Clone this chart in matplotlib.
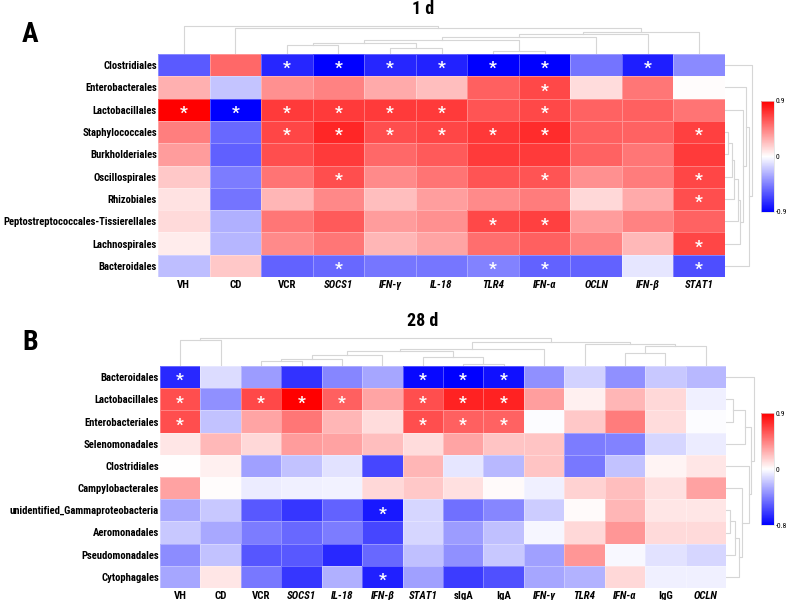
import matplotlib
matplotlib.use("Agg")
import matplotlib.pyplot as plt
import numpy as np
from matplotlib.colors import TwoSlopeNorm
from matplotlib import font_manager

_names = {f.name for f in font_manager.fontManager.ttflist}
_narrow = [n for n in ["Liberation Sans Narrow", "Arial Narrow", "Roboto Condensed",
                       "Open Sans Condensed"] if n in _names]
plt.rcParams['font.family'] = _narrow + ['Liberation Sans', 'DejaVu Sans']

# ---------------- Panel A data (1 d) ----------------
rows_a = ["Clostridiales", "Enterobacterales", "Lactobacillales", "Staphylococcales",
          "Burkholderiales", "Oscillospirales", "Rhizobiales",
          "Peptostreptococcales-Tissierellales", "Lachnospirales", "Bacteroidales"]
cols_a = ["VH", "CD", "VCR", "SOCS1", "IFN-γ", "IL-18", "TLR4", "IFN-α", "OCLN", "IFN-β", "STAT1"]
italic_a = [False, False, False, True, True, True, True, True, True, True, True]
vals_a = [
    [-0.58, 0.53, -0.76, -0.90, -0.76, -0.78, -0.90, -0.90, -0.49, -0.79, -0.41],
    [0.28, -0.21, 0.39, 0.44, 0.30, 0.23, 0.56, 0.64, 0.12, 0.48, 0.01],
    [0.90, -0.90, 0.69, 0.69, 0.69, 0.69, 0.60, 0.64, 0.55, 0.56, 0.49],
    [0.45, -0.53, 0.65, 0.76, 0.62, 0.65, 0.70, 0.74, 0.56, 0.55, 0.67],
    [0.35, -0.56, 0.62, 0.69, 0.53, 0.58, 0.69, 0.69, 0.55, 0.48, 0.69],
    [0.19, -0.46, 0.49, 0.62, 0.41, 0.49, 0.60, 0.60, 0.39, 0.46, 0.65],
    [0.10, -0.49, 0.26, 0.42, 0.23, 0.34, 0.41, 0.46, 0.14, 0.30, 0.62],
    [0.13, -0.28, 0.48, 0.58, 0.35, 0.39, 0.64, 0.67, 0.35, 0.44, 0.55],
    [0.07, -0.26, 0.41, 0.48, 0.26, 0.32, 0.51, 0.56, 0.44, 0.25, 0.65],
    [-0.23, 0.19, -0.55, -0.53, -0.48, -0.48, -0.44, -0.55, -0.55, -0.09, -0.62],
]
sig_a = {
    "Clostridiales": ["VCR", "SOCS1", "IFN-γ", "IL-18", "TLR4", "IFN-α", "IFN-β"],
    "Enterobacterales": ["IFN-α"],
    "Lactobacillales": ["VH", "CD", "VCR", "SOCS1", "IFN-γ", "IL-18", "IFN-α"],
    "Staphylococcales": ["VCR", "SOCS1", "IFN-γ", "IL-18", "TLR4", "IFN-α", "STAT1"],
    "Oscillospirales": ["SOCS1", "IFN-α", "STAT1"],
    "Rhizobiales": ["STAT1"],
    "Peptostreptococcales-Tissierellales": ["TLR4", "IFN-α"],
    "Lachnospirales": ["STAT1"],
    "Bacteroidales": ["SOCS1", "TLR4", "IFN-α", "STAT1"],
}
col_link_a = [("TLR4", "IFN-α", 3.0), ("IFN-γ", "IL-18", 5.7), ("VCR", "SOCS1", 8.7),
              ("n2", "n1", 11.3), ("n3", "n0", 14.0), ("n4", "OCLN", 17.3),
              ("n5", "IFN-β", 19.7), ("n6", "STAT1", 22.3), ("CD", "n7", 25.7),
              ("VH", "n8", 28.0)]
row_link_a = [("Staphylococcales", "Burkholderiales", 3.3), ("n0", "Oscillospirales", 6.7),
              ("n1", "Rhizobiales", 9.3), ("n2", "Peptostreptococcales-Tissierellales", 13.3),
              ("n3", "Lachnospirales", 15.3), ("Lactobacillales", "n4", 17.7),
              ("Enterobacterales", "n5", 21.3), ("n6", "Bacteroidales", 23.7),
              ("Clostridiales", "n7", 27.0)]
range_a = (-0.9, 0.9)

# ---------------- Panel B data (28 d) ----------------
rows_b = ["Bacteroidales", "Lactobacillales", "Enterobacteriales", "Selenomonadales",
          "Clostridiales", "Campylobacterales", "unidentified_Gammaproteobacteria",
          "Aeromonadales", "Pseudomonadales", "Cytophagales"]
cols_b = ["VH", "CD", "VCR", "SOCS1", "IL-18", "IFN-β", "STAT1", "sIgA", "IgA",
          "IFN-γ", "TLR4", "IFN-α", "IgG", "OCLN"]
italic_b = [False, False, False, True, True, True, True, False, False,
            True, True, True, False, True]
vals_b = [
    [-0.67, -0.11, -0.31, -0.64, -0.38, -0.28, -0.77, -0.80, -0.75, -0.35, -0.14, -0.35, -0.17, -0.22],
    [0.62, -0.35, 0.64, 0.90, 0.56, 0.32, 0.62, 0.78, 0.78, 0.34, 0.05, 0.26, 0.14, -0.05],
    [0.62, -0.19, 0.32, 0.48, 0.26, 0.12, 0.62, 0.56, 0.55, -0.01, 0.19, 0.46, 0.12, -0.01],
    [0.09, 0.25, 0.14, 0.35, 0.33, 0.23, 0.12, 0.32, 0.21, 0.21, -0.41, -0.39, -0.13, -0.06],
    [0.00, 0.05, -0.30, -0.19, -0.09, -0.58, 0.26, -0.08, -0.22, 0.21, -0.42, -0.19, 0.04, 0.09],
    [0.33, 0.01, -0.06, -0.05, -0.04, 0.14, 0.19, 0.11, 0.02, -0.05, 0.16, 0.23, 0.11, 0.33],
    [-0.27, -0.17, -0.52, -0.63, -0.49, -0.72, -0.13, -0.45, -0.38, -0.16, 0.02, 0.26, 0.09, 0.09],
    [-0.17, -0.27, -0.41, -0.47, -0.41, -0.58, -0.13, -0.31, -0.20, -0.03, 0.14, 0.37, 0.13, 0.13],
    [-0.36, -0.19, -0.53, -0.52, -0.67, -0.47, -0.20, -0.35, -0.17, -0.30, 0.37, -0.02, -0.09, -0.13],
    [-0.28, 0.09, -0.42, -0.63, -0.25, -0.70, -0.30, -0.61, -0.55, -0.28, -0.24, 0.14, -0.05, -0.05],
]
sig_b = {
    "Bacteroidales": ["VH", "STAT1", "sIgA", "IgA"],
    "Lactobacillales": ["VH", "VCR", "SOCS1", "IL-18", "STAT1", "sIgA", "IgA"],
    "Enterobacteriales": ["VH", "STAT1", "sIgA", "IgA"],
    "unidentified_Gammaproteobacteria": ["IFN-β"],
    "Cytophagales": ["IFN-β"],
}
col_link_b = [("sIgA", "IgA", 2.0), ("VCR", "SOCS1", 4.7), ("n1", "IL-18", 7.0),
              ("STAT1", "n0", 8.7), ("n2", "IFN-β", 11.0), ("n4", "n3", 15.0),
              ("n5", "IFN-γ", 17.0), ("IFN-α", "IgG", 13.0), ("n7", "OCLN", 19.7),
              ("TLR4", "n8", 21.7), ("n6", "n9", 23.7), ("VH", "CD", 26.0),
              ("n11", "n10", 28.0)]
row_link_b = [("Lactobacillales", "Enterobacteriales", 7.0), ("n0", "Selenomonadales", 18.7),
              ("unidentified_Gammaproteobacteria", "Aeromonadales", 4.3), ("n2", "Pseudomonadales", 9.3),
              ("n3", "Cytophagales", 13.3), ("Campylobacterales", "n4", 16.0),
              ("Clostridiales", "n5", 22.7), ("n1", "n6", 25.3), ("Bacteroidales", "n7", 27.7)]
range_b = (-0.8, 0.9)

W, H = 789, 600
fig = plt.figure(figsize=(W / 100, H / 100), dpi=100)
DCOL = "#d6d6d6"

# fit label font sizes to the widths seen in the reference
_r = fig.canvas.get_renderer()
_t = fig.text(0, 0, "Peptostreptococcales-Tissierellales", fontsize=10, fontweight="bold")
ROW_FS = 10 * 155.0 / _t.get_window_extent(_r).width
_t.remove()
_t = fig.text(0, 0, "SOCS1", fontsize=10, fontweight="bold", fontstyle="italic")
COL_FS = 10 * 29.0 / _t.get_window_extent(_r).width
_t.remove()


def fax(x0, y0, x1, y1):
    return fig.add_axes([x0 / W, 1 - y1 / H, (x1 - x0) / W, (y1 - y0) / H])


def dendro(ax, leaves, links, orient):
    pos = {l: i + 0.5 for i, l in enumerate(leaves)}
    hgt = {l: 0.0 for l in leaves}
    for k, (a, b, h) in enumerate(links):
        pa, pb, ha, hb = pos[a], pos[b], hgt[a], hgt[b]
        if orient == "top":
            ax.plot([pa, pa, pb, pb], [ha, h, h, hb], color=DCOL, lw=0.8)
        else:
            ax.plot([ha, h, h, hb], [pa, pa, pb, pb], color=DCOL, lw=0.8)
        pos["n%d" % k] = (pa + pb) / 2
        hgt["n%d" % k] = h
    ax.set_axis_off()


def panel(box, rows, cols, italic, vals, sig, clink, rlink, rng, cbox, title, tpos, letter, lpos):
    x0, y0, x1, y1 = box
    v = np.array(vals)
    norm = TwoSlopeNorm(vmin=rng[0], vcenter=0, vmax=rng[1])
    ax = fax(x0, y0, x1, y1)
    m = ax.pcolormesh(np.arange(len(cols) + 1), np.arange(len(rows) + 1), v, cmap="bwr",
                      norm=norm, edgecolor=(1, 1, 1, 0.3), linewidth=0.4)
    ax.set_xlim(0, len(cols))
    ax.set_ylim(len(rows), 0)
    for s in ax.spines.values():
        s.set_visible(False)
    ax.set_yticks(np.arange(len(rows)) + 0.5)
    ax.set_yticklabels(rows, fontsize=ROW_FS, fontweight="bold")
    ax.set_xticks(np.arange(len(cols)) + 0.5)
    ax.set_xticklabels(cols, fontsize=COL_FS, fontweight="bold")
    for lab, it in zip(ax.get_xticklabels(), italic):
        if it:
            lab.set_fontstyle("italic")
    ax.tick_params(axis="x", length=0, pad=2.5)
    ax.tick_params(axis="y", length=0, pad=0.8)
    for r, row in enumerate(rows):
        for c in sig.get(row, []):
            ax.text(cols.index(c) + 0.5, r + 0.86, "*", ha="center", va="baseline",
                    color="white", fontsize=12.5, fontweight="bold")
    # dendrograms
    axc = fax(x0, y0 - 30, x1, y0)
    dendro(axc, cols, clink, "top")
    axc.set_xlim(0, len(cols))
    axc.set_ylim(0, 30)
    axr = fax(x1, y0, x1 + 32, y1)
    dendro(axr, rows, rlink, "right")
    axr.set_xlim(0, 32)
    axr.set_ylim(len(rows), 0)
    # colorbar
    cax = fax(*cbox)
    cb = fig.colorbar(m, cax=cax, ticks=[rng[0], 0, rng[1]])
    cb.ax.set_yticklabels(["%g" % rng[0], "0", "%g" % rng[1]])
    cb.ax.tick_params(labelsize=5.5, length=0, pad=1)
    cb.outline.set_edgecolor("#dddddd")
    cb.outline.set_linewidth(0.5)
    fig.text(tpos[0] / W, 1 - tpos[1] / H, title, ha="center", va="center",
             fontsize=13, fontweight="bold")
    fig.text(lpos[0] / W, 1 - lpos[1] / H, letter, ha="center", va="center",
             fontsize=20, fontweight="bold")


panel((158, 54, 725, 277), rows_a, cols_a, italic_a, vals_a, sig_a, col_link_a, row_link_a,
      range_a, (761, 101, 774, 212), "1 d", (423, 9), "A", (30, 34))
panel((160, 366, 726, 588), rows_b, cols_b, italic_b, vals_b, sig_b, col_link_b, row_link_b,
      range_b, (761, 413, 774, 525), "28 d", (423, 321), "B", (30, 343))

fig.savefig("out.png", dpi=100)
